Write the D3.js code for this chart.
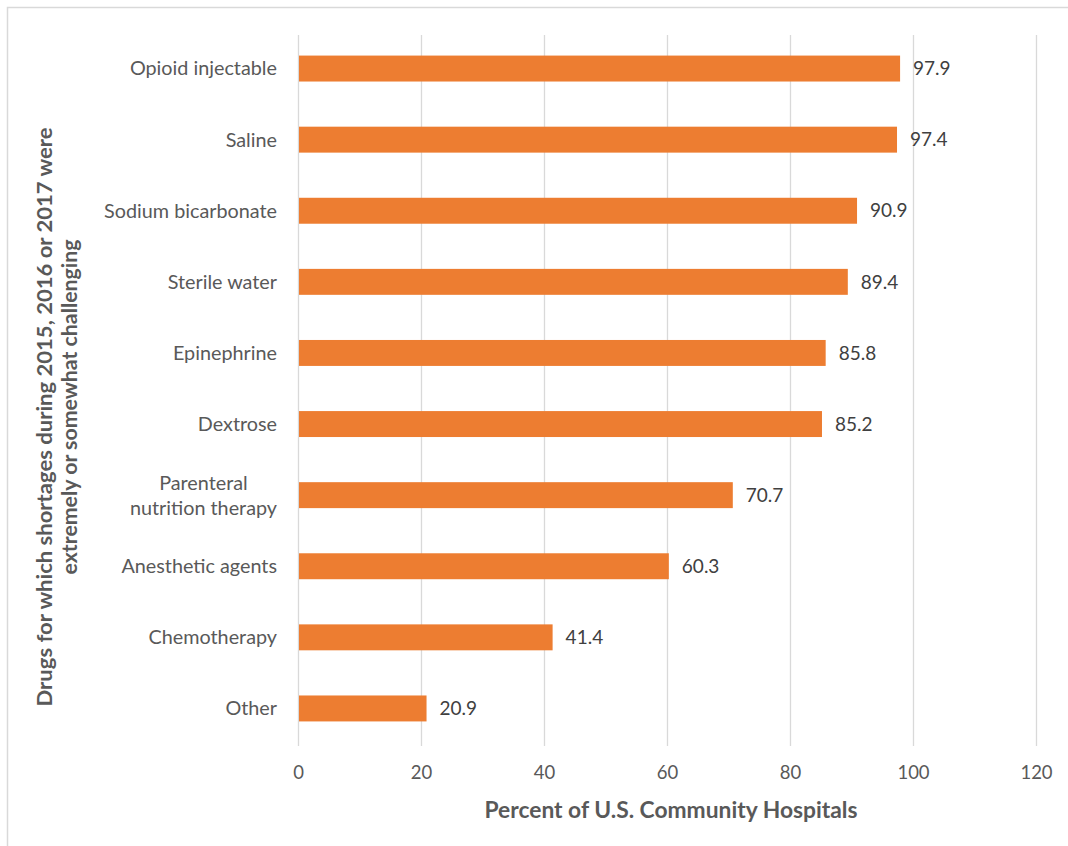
<!DOCTYPE html>
<html><head><meta charset="utf-8">
<script src="https://cdn.jsdelivr.net/npm/d3@7"></script>
<style>
body{margin:0;background:#fff;}
svg{display:block;}
text{font-family:Lato,"Open Sans",sans-serif;}
</style></head>
<body>
<svg id="chart" width="1068" height="846"></svg>
<script>
const categories = ["Opioid injectable","Saline","Sodium bicarbonate","Sterile water","Epinephrine","Dextrose","Parenteral\nnutrition therapy","Anesthetic agents","Chemotherapy","Other"];
const values = [97.9,97.4,90.9,89.4,85.8,85.2,70.7,60.3,41.4,20.9];
const xTicks = [0,20,40,60,80,100,120];
const xTitle = "Percent of U.S. Community Hospitals";
const yTitle = ["Drugs for which shortages during 2015, 2016 or 2017 were","extremely or somewhat challenging"];

const svg = d3.select("#chart");
svg.append("rect").attr("x",7.5).attr("y",7.5).attr("width",1100).attr("height",900)
  .attr("fill","#fff").attr("stroke","#d9d9d9").attr("stroke-width",1.5);

const x = d3.scaleLinear().domain([0,120]).range([298,1036]);
const y = d3.scaleBand().domain(categories).range([33,744]).paddingInner(0.635).paddingOuter(0.3175);

// gridlines
svg.append("g").selectAll("line").data(xTicks).join("line")
  .attr("x1",d=>x(d)+0.5).attr("x2",d=>x(d)+0.5).attr("y1",35).attr("y2",746)
  .attr("stroke","#d9d9d9").attr("stroke-width",1.3);

// bars
svg.append("g").selectAll("rect").data(values).join("rect")
  .attr("x",x(0)+1).attr("y",(d,i)=>y(categories[i]))
  .attr("width",d=>x(d)-x(0)-1).attr("height",y.bandwidth())
  .attr("fill","#ed7d31");

// value labels
svg.append("g").selectAll("text").data(values).join("text")
  .attr("x",d=>x(d)+13).attr("y",(d,i)=>y(categories[i])+y.bandwidth()/2)
  .attr("dy","0.35em").attr("font-size",19).attr("fill","#404040")
  .text(d=>d.toFixed(1));

// category labels
const catG = svg.append("g");
categories.forEach((c,i)=>{
  const lines = c.split("\n");
  const cy = y(c)+y.bandwidth()/2;
  const lh = 25;
  const t = catG.append("text").attr("font-size",19.8).attr("fill","#595959").attr("text-anchor","middle");
  lines.forEach((ln,j)=>{
    t.append("tspan").attr("y",cy+(j-(lines.length-1)/2)*lh).attr("dy","0.35em").text(ln);
  });
  const w = d3.max(t.selectAll("tspan").nodes(), n=>n.getComputedTextLength());
  t.selectAll("tspan").attr("x",277-w/2);
});

// x tick labels
const xAxis = d3.axisBottom(x).tickValues(xTicks).tickSize(0).tickPadding(0);
const ax = svg.append("g").attr("transform","translate(0,766)").call(xAxis);
ax.select(".domain").remove();
ax.selectAll("text").attr("font-size",18.5).attr("fill","#595959").attr("font-family","Lato,'Open Sans',sans-serif");

// x title
svg.append("text").attr("x",671).attr("y",818)
  .attr("text-anchor","middle").attr("font-size",22).attr("font-weight","bold").attr("fill","#595959")
  .attr("textLength",373).attr("lengthAdjust","spacingAndGlyphs")
  .text(xTitle);

// y title
const yt = svg.append("g").attr("transform","translate(57,412) rotate(-90)");
const yLens = [579,335];
const yOff = [-5,5];
yTitle.forEach((ln,j)=>{
  yt.append("text").attr("x",yOff[j]).attr("y",(j-0.5)*25).attr("dy","0.35em")
    .attr("text-anchor","middle").attr("font-size",21).attr("font-weight","bold").attr("fill","#595959")
    .attr("textLength",yLens[j]).attr("lengthAdjust","spacingAndGlyphs").text(ln);
});
</script>
</body></html>
